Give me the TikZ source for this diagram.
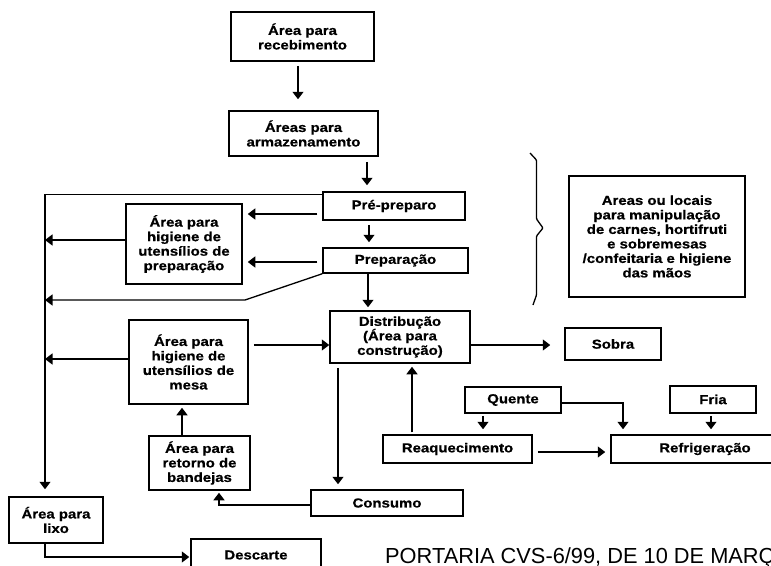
\documentclass[tikz,border=0pt]{standalone}
\usepackage{fontspec}
\setmainfont{Liberation Sans}
\newfontfamily\boxfont[FakeStretch=1.15, BoldFeatures={FakeBold=0.6}]{Liberation Sans}
\usetikzlibrary{arrows.meta}

\tikzset{
  box/.style={draw, line width=1.5pt, align=center, inner sep=0pt,
    font=\boxfont\bfseries\fontsize{13}{14.5}\selectfont},
  arr/.style={line width=1.3pt, -{Triangle[length=7.5pt,width=11pt]}},
  ln/.style={line width=1.3pt},
}

\begin{document}
\begin{tikzpicture}[x=1pt, y=-1pt]
  \clip (0,0) rectangle (771,565);
  \fill[white] (0,0) rectangle (771,565);

  % main column
  \node[box, minimum width=143pt, minimum height=49pt] (rec)  at (302.5,36.5) {Área para\\recebimento};
  \node[box, minimum width=149pt, minimum height=45pt] (arm)  at (303.5,133.5) {Áreas para\\armazenamento};
  \node[box, minimum width=142pt, minimum height=28pt] (pre)  at (394,206)   {Pré-preparo};
  \node[box, minimum width=145pt, minimum height=25pt] (prep) at (395.5,260.5) {Preparação};
  \node[box, minimum width=140pt, minimum height=52pt] (dist) at (400,337)   {Distribução\\(Área para\\construção)};
  \node[box, minimum width=152pt, minimum height=26pt] (cons) at (387,503)   {Consumo};

  % left side
  \node[box, minimum width=116pt, minimum height=80pt] (hprep) at (184,244) {Área para\\higiene de\\utensílios de\\preparação};
  \node[box, minimum width=119pt, minimum height=84pt] (hmesa) at (188.5,362) {Área para\\higiene de\\utensílios de\\mesa};
  \node[box, minimum width=101pt, minimum height=54pt] (ret)   at (199.5,463) {Área para\\retorno de\\bandejas};
  \node[box, minimum width=94pt, minimum height=46pt]  (lixo)  at (56,520)    {Área para\\lixo};
  \node[box, minimum width=130pt, minimum height=32pt] (desc)  at (256,555)   {Descarte};

  % right side
  \node[box, minimum width=176pt, minimum height=121pt] (areas) at (657,236.5) {Areas ou locais\\para manipulação\\de carnes, hortifruti\\e sobremesas\\/confeitaria e higiene\\das mãos};
  \node[box, minimum width=96pt, minimum height=32pt]  (sobra) at (613,344)   {Sobra};
  \node[box, minimum width=96pt, minimum height=26pt]  (quen)  at (513,400)   {Quente};
  \node[box, minimum width=86pt, minimum height=27pt]  (fria)  at (713,399.5) {Fria};
  \node[box, minimum width=149pt, minimum height=28pt] (reaq)  at (457.5,449) {Reaquecimento};
  \node[box, minimum width=188pt, minimum height=28pt] (refr)  at (705,449)   {Refrigeração};

  \coordinate (rail) at (45,195);
  \coordinate (bend) at (245,300);

  % flow down
  \draw[arr, shorten <=4pt, shorten >=11pt] ([xshift=-4.5pt]rec.south) -- ([xshift=-5.5pt]arm.north);
  \draw[arr, shorten <=5pt, shorten >=6pt] ([xshift=63.5pt]arm.south) -- ([xshift=-27pt]pre.north);
  \draw[arr, shorten <=4pt, shorten >=5pt] ([xshift=-25pt]pre.south) -- ([xshift=-26.5pt]prep.north);
  \draw[arr, shorten >=3pt] ([xshift=-27.5pt]prep.south) -- ([xshift=-32pt]dist.north);
  \draw[arr, shorten <=4pt, shorten >=5pt] ([xshift=-62pt]dist.south) -- ([xshift=-49pt]cons.north);

  % to the left
  \draw[arr, shorten <=5pt, shorten >=5pt] ([yshift=-8pt]pre.west) -- ([yshift=-8pt]pre.west -| hprep.east);
  \draw[arr, shorten <=5pt, shorten >=5pt] ([yshift=-1.5pt]prep.west) -- ([yshift=-1.5pt]prep.west -| hprep.east);
  \draw[arr, shorten >=7pt] ([yshift=-3pt]pre.north west) -| ([xshift=-11pt]lixo.north);
  \draw[arr] ([yshift=4pt]hprep.west) -- ([yshift=4pt]hprep.west -| rail);
  \draw[arr] (prep.south west) -- (bend) -- (bend -| rail);
  \draw[arr] ([yshift=3pt]hmesa.west) -- ([yshift=3pt]hmesa.west -| rail);
  \draw[arr, shorten <=5pt] ([yshift=17pt]hmesa.east) -- ([yshift=-8pt]dist.west);
  \draw[arr, shorten >=3pt] ([xshift=-17.5pt]ret.north) -- ([xshift=-6.5pt]hmesa.south);
  \draw[arr, shorten >=2pt] ([yshift=-2pt]cons.west) -| ([xshift=19.5pt]ret.south);
  \draw[arr, shorten >=1pt] ([xshift=-11pt]lixo.south) |- ([yshift=-2pt]desc.west);

  % to the right
  \draw[arr, shorten >=14pt] ([yshift=-8pt]dist.east) -- ([yshift=-8pt]dist.east -| sobra.west);
  \draw[arr, shorten <=2pt, shorten >=5pt] ([xshift=-30pt]quen.south) -- ([xshift=25.5pt]reaq.north);
  \draw[arr, shorten >=5pt] ([yshift=-3pt]quen.east) -| ([xshift=-82pt]refr.north);
  \draw[arr, shorten <=2pt, shorten >=5pt] ([xshift=-2pt]fria.south) -- ([xshift=6pt]refr.north);
  \draw[arr, shorten <=5pt, shorten >=5pt] ([yshift=-3pt]reaq.east) -- ([yshift=-3pt]reaq.east -| refr.west);
  \draw[arr, shorten <=2pt, shorten >=3pt] ([xshift=-45.5pt]reaq.north) -- ([xshift=12pt]dist.south);

  % brace
  \draw[ln, rounded corners=1pt] (530,153) -- (536.5,160) -- (536.5,219) -- (543,228)
    -- (536.5,236) -- (536.5,295) -- (533,305);

  \node[anchor=base west, inner sep=0pt, font=\fontsize{21.8}{24}\selectfont] (port) at (385,563)
    {PORTARIA CVS-6/99, DE 10 DE MARÇO};
\end{tikzpicture}
\end{document}
